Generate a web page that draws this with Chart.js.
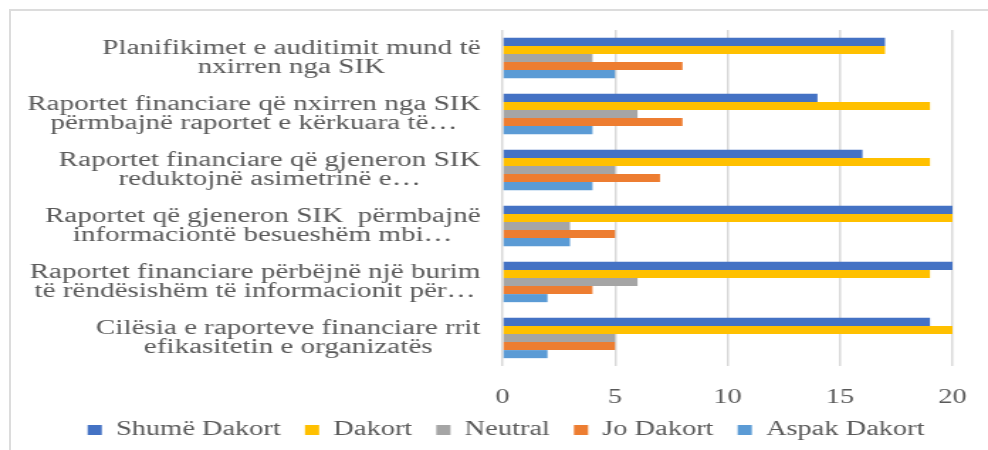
<!DOCTYPE html>
<html>
<head>
<meta charset="utf-8">
<script src="https://cdn.jsdelivr.net/npm/chart.js@4.4.1/dist/chart.umd.min.js"></script>
<style>
  html, body { margin: 0; padding: 0; background: #fff; overflow: hidden; }
  body { width: 988px; height: 450px; position: relative; }
  #frame { position: absolute; left: 9px; top: 9px; width: 1100px; height: 600px;
           border-top: 2px solid #dcdcdc; border-left: 2px solid #dcdcdc; box-sizing: border-box; }
  #wrap { position: absolute; left: 0; top: 0; width: 696px; height: 450px;
          transform: scaleX(1.4195); transform-origin: 0 0; }
</style>
</head>
<body>
<div id="frame"></div>
<div id="wrap"><canvas id="c"></canvas></div>
<script>
const categories = [
  ["Planifikimet e auditimit mund të", "nxirren nga SIK"],
  ["Raportet financiare që nxirren nga SIK", "përmbajnë raportet e kërkuara të…"],
  ["Raportet financiare që gjeneron SIK", "reduktojnë asimetrinë e…"],
  ["Raportet që gjeneron SIK  përmbajnë", "informaciontë besueshëm mbi…"],
  ["Raportet financiare përbëjnë një burim", "të rëndësishëm të informacionit për…"],
  ["Cilësia e raporteve financiare rrit", "efikasitetin e organizatës"]
];
const seriesNames = ["Shumë Dakort", "Dakort", "Neutral", "Jo Dakort", "Aspak Dakort"];
const shumeDakort = [17, 14, 16, 20, 20, 19];
const dakort      = [17, 19, 19, 20, 19, 20];
const neutral     = [4, 6, 5, 3, 6, 5];
const joDakort    = [8, 8, 7, 5, 4, 5];
const aspakDakort = [5, 4, 4, 3, 2, 2];
const xTicks = [0, 5, 10, 15, 20];

const colors = ["#4472C4", "#FFC000", "#A5A5A5", "#ED7D31", "#5B9BD5"];
const seriesValues = [shumeDakort, dakort, neutral, joDakort, aspakDakort];
const FONT = "'Liberation Serif', 'Times New Roman', serif";
const TXT = "#595959";

const yLabelPlugin = {
  id: 'yLabels',
  afterDraw(chart) {
    const ctx = chart.ctx;
    const ys = chart.scales.y;
    const xRight = chart.chartArea.left - 15.5;
    const lineH = 19.5;
    ctx.save();
    ctx.font = "20.5px " + FONT;
    ctx.fillStyle = TXT;
    ctx.textAlign = 'center';
    ctx.textBaseline = 'middle';
    chart.data.labels.forEach((lines, i) => {
      const yc = ys.getPixelForTick(i);
      const widest = Math.max(...lines.map(l => ctx.measureText(l).width));
      const xc = xRight - widest / 2;
      const y0 = yc - (lines.length - 1) * lineH / 2;
      lines.forEach((l, k) => ctx.fillText(l, xc, y0 + k * lineH));
    });
    ctx.restore();
  }
};

new Chart(document.getElementById('c'), {
  type: 'bar',
  data: {
    labels: categories,
    datasets: seriesNames.map((name, i) => ({
      label: name,
      data: seriesValues[i],
      backgroundColor: colors[i],
      borderWidth: 0,
      categoryPercentage: 0.72,
      barPercentage: 1.0
    }))
  },
  options: {
    indexAxis: 'y',
    responsive: true,
    maintainAspectRatio: false,
    animation: false,
    layout: { padding: { left: 42, right: 25, top: 30, bottom: 0 } },
    scales: {
      x: {
        min: 0, max: 20,
        afterBuildTicks(scale) { scale.ticks = xTicks.map(v => ({ value: v })); },
        afterFit(scale) { scale.height = 37; },
        grid: { color: '#d9d9d9', lineWidth: 1.5, drawTicks: false },
        border: { display: false },
        ticks: { font: { family: FONT, size: 20, lineHeight: 2 }, color: TXT, padding: 12 }
      },
      y: {
        grid: { display: false },
        border: { display: false },
        ticks: { display: false },
        afterFit(scale) { scale.width = 312; }
      }
    },
    plugins: {
      legend: {
        position: 'bottom',
        labels: {
          font: { family: FONT, size: 20 },
          color: TXT,
          boxWidth: 10,
          boxHeight: 10,
          padding: 17
        }
      },
      tooltip: { enabled: false }
    }
  },
  plugins: [yLabelPlugin]
});
</script>
</body>
</html>
